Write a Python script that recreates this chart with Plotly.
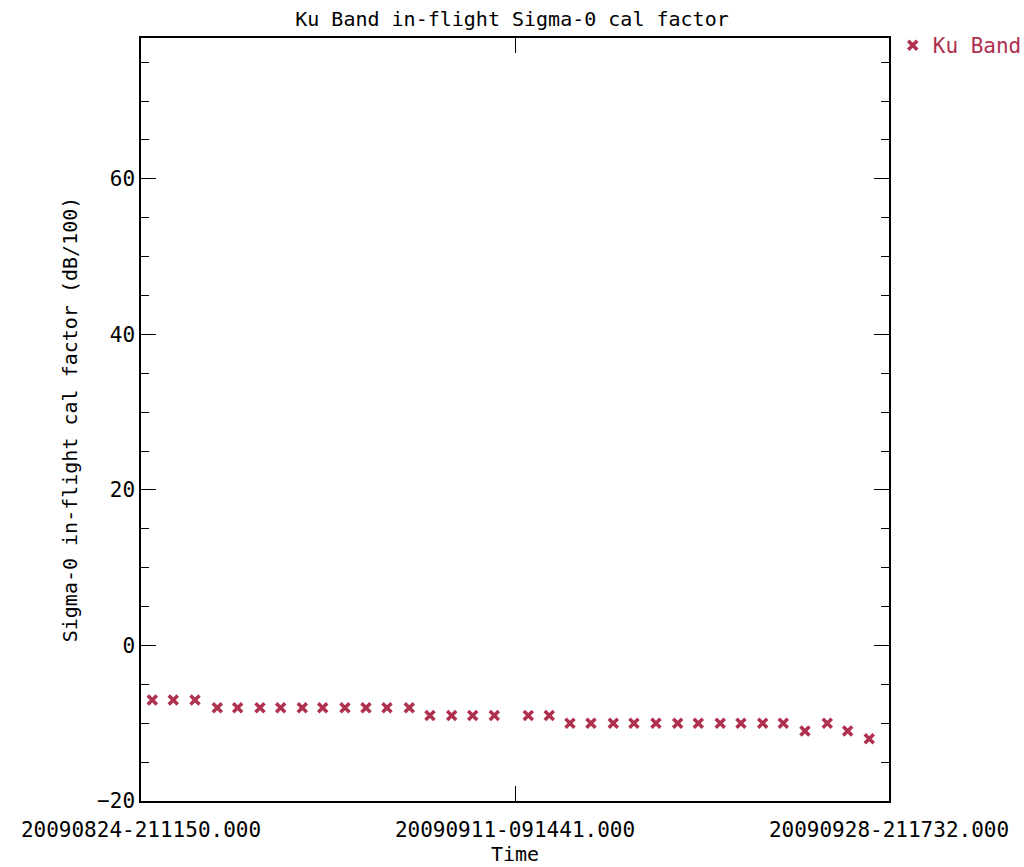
import plotly.graph_objects as go

# Ku Band in-flight Sigma-0 calibration factor, one value per pass
times = [
    "2009-08-25 09:53", "2009-08-26 09:27", "2009-08-27 09:50", "2009-08-28 10:53",
    "2009-08-29 09:47", "2009-08-30 10:51", "2009-08-31 10:04", "2009-09-01 10:20",
    "2009-09-02 09:16", "2009-09-03 10:17", "2009-09-04 09:53", "2009-09-05 09:27",
    "2009-09-06 10:31", "2009-09-07 09:46", "2009-09-08 10:08", "2009-09-09 09:43",
    "2009-09-10 09:59", "2009-09-12 00:10", "2009-09-12 23:44", "2009-09-13 23:00",
    "2009-09-14 22:35", "2009-09-15 23:37", "2009-09-16 22:52", "2009-09-17 23:34",
    "2009-09-18 23:57", "2009-09-19 23:05", "2009-09-20 23:45", "2009-09-21 23:02",
    "2009-09-22 23:24", "2009-09-23 22:32", "2009-09-24 22:54", "2009-09-25 23:57",
    "2009-09-26 22:52", "2009-09-27 23:07",
]
ku_band = [
    -7, -7, -7, -8, -8, -8, -8, -8, -8, -8, -8, -8,
    -8, -9, -9, -9, -9, -9, -9, -10, -10, -10, -10, -10,
    -10, -10, -10, -10, -10, -10, -11, -10, -11, -12,
]

# Time axis: start, midpoint and end of the reporting window
x_tickvals = ["2009-08-24 21:11:50", "2009-09-11 09:14:41", "2009-09-28 21:17:32"]
x_ticktext = ["20090824-211150.000", "20090911-091441.000", "20090928-211732.000"]
y_tickvals = [-20, 0, 20, 40, 60]

RED = "#B0304F"
FONT = "DejaVu Sans Mono"

fig = go.Figure()
fig.add_trace(go.Scatter(
    x=times, y=ku_band, mode="markers", name="Ku Band",
    marker=dict(symbol="x-thin-open", size=9, color=RED,
                line=dict(color=RED, width=3.5)),
))

fig.update_layout(
    width=1024, height=867,
    margin=dict(l=141, r=135, t=38, b=66, autoexpand=False),
    paper_bgcolor="white", plot_bgcolor="white",
    font=dict(family=FONT, size=20, color="black"),
    title=dict(text="Ku Band in-flight Sigma-0 cal factor",
               x=0.5, xanchor="center", y=1 - 19 / 867, yanchor="middle",
               font=dict(family=FONT, size=20, color="black")),
    showlegend=True,
    legend=dict(x=1.005, y=1.017, xanchor="left", yanchor="top",
                bgcolor="rgba(0,0,0,0)", itemwidth=30,
                font=dict(family=FONT, size=21, color=RED)),
)

fig.update_xaxes(
    type="date", range=[x_tickvals[0], x_tickvals[-1]],
    tickvals=x_tickvals, ticktext=x_ticktext,
    ticks="inside", ticklen=15, tickwidth=1.2, tickcolor="black",
    ticklabelstandoff=9,
    showline=True, linecolor="black", linewidth=1.5, mirror="allticks",
    showgrid=False, zeroline=False,
    title=dict(text="Time", standoff=4, font=dict(family=FONT, size=20)),
    tickfont=dict(family=FONT, size=21),
)

fig.update_yaxes(
    range=[-20, 78.1],
    tickvals=y_tickvals,
    ticks="inside", ticklen=15, tickwidth=1.2, tickcolor="black",
    minor=dict(dtick=5, tick0=0, ticks="inside", ticklen=8, tickwidth=1.2,
               tickcolor="black", showgrid=False),
    showline=True, linecolor="black", linewidth=1.5, mirror="allticks",
    showgrid=False, zeroline=False,
    title=dict(text="Sigma-0 in-flight cal factor (dB/100)", standoff=14,
               font=dict(family=FONT, size=20)),
    tickfont=dict(family=FONT, size=21),
)

fig.write_html("out.html")
